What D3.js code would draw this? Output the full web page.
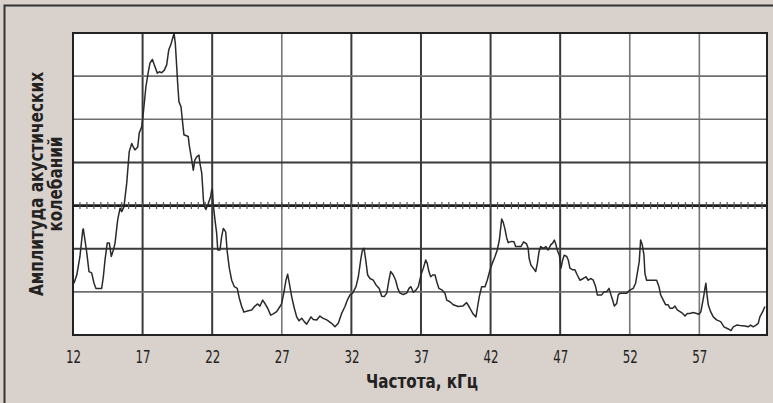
<!DOCTYPE html>
<html>
<head>
<meta charset="utf-8">
<script src="https://cdn.jsdelivr.net/npm/d3@7"></script>
<style>
  body { margin: 0; background: #d9d1cc; }
  svg { display: block; }
  text { font-family: "Liberation Sans Narrow", "DejaVu Sans Condensed", "Liberation Sans", sans-serif; font-stretch: condensed; }
</style>
</head>
<body>
<script>
// частота, кГц
var freq = [12.07,12.27,12.50,12.70,12.74,12.86,12.98,13.15,13.34,13.51,13.65,14.06,14.18,14.30,14.46,14.61,14.75,14.90,15.02,15.21,
  15.38,15.50,15.66,15.86,16.04,16.22,16.33,16.45,16.65,16.76,16.94,17.05,17.24,17.41,17.53,17.70,17.89,18.06,18.20,18.37,
  18.56,18.73,18.88,19.02,19.16,19.26,19.35,19.45,19.52,19.61,19.76,19.88,19.97,20.28,20.35,20.53,20.64,20.76,20.89,21.05,
  21.12,21.25,21.32,21.36,21.41,21.55,21.72,21.89,21.96,22.01,22.08,22.20,22.32,22.40,22.56,22.68,22.80,22.97,23.08,23.23,
  23.40,23.59,23.80,23.95,24.12,24.28,24.59,24.84,25.07,25.27,25.43,25.63,25.79,25.99,26.20,26.39,26.63,26.87,26.99,27.16,
  27.30,27.42,27.54,27.71,27.90,28.07,28.24,28.43,28.62,28.79,29.10,29.26,29.51,29.74,29.94,30.23,30.58,30.82,31.06,31.30,
  31.54,31.71,31.90,32.09,32.33,32.50,32.67,32.78,32.91,33.03,33.17,33.34,33.57,33.77,34.00,34.18,34.36,34.54,34.70,34.82,
  35.01,35.18,35.33,35.49,35.73,35.97,36.14,36.28,36.45,36.64,36.81,37.00,37.17,37.34,37.45,37.57,37.70,37.84,38.01,38.13,
  38.29,38.53,38.72,38.85,39.08,39.32,39.68,40.00,40.28,40.52,40.76,40.95,41.05,41.19,41.36,41.60,41.76,41.96,42.12,42.32,
  42.48,42.63,42.80,42.91,43.03,43.16,43.27,43.51,43.68,43.80,43.99,44.18,44.37,44.59,44.70,44.77,44.90,45.07,45.24,45.36,
  45.48,45.60,45.79,45.98,46.14,46.32,46.46,46.58,46.70,46.79,46.94,47.06,47.18,47.29,47.47,47.58,47.70,47.90,48.06,48.23,
  48.42,48.66,48.85,49.02,49.19,49.38,49.55,49.67,49.98,50.15,50.34,50.51,50.65,50.77,50.89,51.06,51.17,51.30,51.78,52.01,
  52.25,52.42,52.54,52.68,52.78,52.90,53.02,53.09,53.21,53.93,54.10,54.22,54.41,54.58,54.76,54.89,55.08,55.25,55.41,55.61,
  55.80,55.97,56.13,56.32,56.56,56.81,56.97,57.11,57.24,57.33,57.40,57.47,57.55,57.64,57.81,58.00,58.24,58.53,58.77,59.08,
  59.27,59.44,59.68,59.92,60.28,60.51,60.68,60.87,61.07,61.23,61.35,61.55,61.71];

// амплитуда (усл. ед.)
var amp = [12.0,13.9,18.2,24.3,24.6,22.0,19.3,14.7,14.4,12.0,10.8,10.8,13.5,17.4,21.3,21.3,18.2,19.7,21.3,26.7,
  29.4,28.6,29.7,35.2,42.5,44.4,43.6,42.9,43.6,46.8,48.3,51.4,57.6,61.0,63.0,63.9,62.2,60.7,61.0,60.8,
  61.4,62.6,66.1,67.2,68.8,69.9,67.6,62.2,58.3,54.1,52.9,49.1,46.4,46.0,44.0,40.6,38.2,40.6,41.3,41.7,
  39.8,37.5,34.0,31.7,30.1,29.1,30.5,32.1,33.6,33.8,30.1,26.7,23.6,19.7,19.7,22.8,24.7,23.9,19.3,15.5,
  12.7,11.2,10.8,8.5,6.6,5.3,5.6,5.8,6.7,7.2,6.7,8.1,7.3,6.2,4.6,4.9,5.4,6.6,7.3,10.0,
  12.7,14.1,12.0,8.9,6.2,4.2,3.3,3.9,3.1,2.5,4.2,3.6,3.5,4.4,3.9,3.5,2.7,1.9,2.7,5.0,
  6.6,8.1,9.3,9.7,11.2,13.5,17.4,19.5,20.1,17.4,13.9,13.1,12.7,11.6,10.8,9.0,8.9,9.7,12.7,14.7,
  13.9,12.7,10.8,9.7,9.4,9.7,10.8,11.2,9.9,10.4,11.2,13.9,15.5,17.4,16.6,14.7,13.5,13.9,13.9,12.4,
  10.8,10.4,9.7,8.1,7.7,7.0,6.6,6.7,7.5,6.2,4.8,4.2,6.2,8.9,11.2,11.2,12.7,15.1,16.6,18.2,
  19.7,22.0,26.9,26.1,24.6,22.5,21.4,21.7,21.6,20.5,20.5,20.5,21.6,21.1,20.1,17.8,16.2,15.5,14.7,16.6,
  19.3,20.5,20.1,20.5,19.7,20.9,21.3,22.0,20.9,19.7,18.5,15.5,17.4,18.5,18.2,17.4,15.5,15.1,15.1,13.9,
  12.7,13.1,13.5,12.7,13.1,12.7,11.2,9.3,9.3,10.0,10.0,10.8,9.3,8.1,6.7,7.3,9.3,9.7,9.7,10.4,
  10.8,12.0,14.3,17.0,22.0,20.9,18.5,14.3,12.7,12.7,11.2,9.3,8.1,7.0,7.0,6.2,6.2,6.7,5.8,5.4,
  5.0,4.4,5.0,5.0,5.2,5.0,4.8,5.4,7.7,9.3,10.8,12.0,9.3,7.0,5.4,4.2,3.5,3.1,1.9,1.4,
  1.0,1.9,2.3,2.2,2.1,1.9,2.3,1.9,2.3,2.7,4.2,5.4,6.6];

var xTicks = [12, 17, 22, 27, 32, 37, 42, 47, 52, 57];
var yGrid = [10, 20, 30, 40, 50, 60];
var yLabel = ["Амплитуда  акустических", "колебаний"];
var xLabel = "Частота, кГц";

function drawChart() {
  var data = freq.map(function(f, i) { return {f: f, a: amp[i]}; });

  var W = 773, H = 403;
  var pLeft = 73, pRight = 767, pTop = 33, pBottom = 335;

  var svg = d3.select("body").append("svg")
    .attr("width", W).attr("height", H);

  // фон и рамка
  svg.append("rect").attr("width", W).attr("height", H).attr("fill", "#d9d1cc");
  svg.append("path")
    .attr("d", "M4.5," + H + "V5.5H" + W)
    .attr("fill", "none").attr("stroke", "#333").attr("stroke-width", 2);

  var x = d3.scaleLinear().domain([12, 61.86]).range([pLeft, pRight]);
  var y = d3.scaleLinear().domain([0, 70]).range([pBottom, pTop]);

  svg.append("rect")
    .attr("x", pLeft).attr("y", pTop)
    .attr("width", pRight - pLeft).attr("height", pBottom - pTop)
    .attr("fill", "#fff");

  // вертикальная сетка
  var light = {27: true, 52: true, 57: true};
  svg.append("g").selectAll("line")
    .data(xTicks.slice(1))
    .enter().append("line")
    .attr("x1", function(d) { return x(d); })
    .attr("x2", function(d) { return x(d); })
    .attr("y1", pTop).attr("y2", pBottom)
    .attr("stroke", function(d) { return light[d] ? "#777" : "#3a3a3a"; })
    .attr("stroke-width", function(d) { return light[d] ? 1.6 : 2; });

  // горизонтальная сетка
  svg.append("g").selectAll("line")
    .data(yGrid)
    .enter().append("line")
    .attr("x1", pLeft).attr("x2", pRight)
    .attr("y1", function(d) { return y(d); })
    .attr("y2", function(d) { return y(d); })
    .attr("stroke", function(d) { return d == 30 ? "#1e1e1e" : (d == 20 || d == 40 ? "#3a3a3a" : "#6e6e6e"); })
    .attr("stroke-width", function(d) { return d == 30 ? 2.8 : (d == 20 || d == 40 ? 2 : 1.6); });

  // мелкие деления на средней линии
  svg.append("g").selectAll("line")
    .data(d3.range(12.5, 61.8, 0.5))
    .enter().append("line")
    .attr("x1", function(d) { return x(d); })
    .attr("x2", function(d) { return x(d); })
    .attr("y1", y(30) - 3.5).attr("y2", y(30) + 3.5)
    .attr("stroke", "#555").attr("stroke-width", 1.2);

  // кривая
  var line = d3.line()
    .x(function(d) { return x(d.f); })
    .y(function(d) { return y(d.a); });

  svg.append("path")
    .datum(data)
    .attr("d", line)
    .attr("fill", "none")
    .attr("stroke", "#2a2a2a")
    .attr("stroke-width", 1.5)
    .attr("stroke-linejoin", "round");

  // рамка графика
  svg.append("rect")
    .attr("x", pLeft).attr("y", pTop)
    .attr("width", pRight - pLeft).attr("height", pBottom - pTop)
    .attr("fill", "none").attr("stroke", "#222").attr("stroke-width", 2);

  // подписи оси X
  var xAxis = svg.append("g")
    .attr("transform", "translate(0," + pBottom + ")")
    .call(d3.axisBottom(x).tickValues(xTicks).tickSize(0).tickPadding(15));
  xAxis.select(".domain").remove();
  xAxis.attr("font-family", null);
  xAxis.selectAll("text")
    .attr("font-size", 18)
    .attr("textLength", 15)
    .attr("lengthAdjust", "spacingAndGlyphs")
    .attr("fill", "#222");

  svg.append("text")
    .attr("x", 422).attr("y", 388)
    .attr("text-anchor", "middle")
    .attr("font-weight", "bold")
    .attr("font-size", 19)
    .attr("textLength", 112)
    .attr("lengthAdjust", "spacingAndGlyphs")
    .attr("fill", "#222")
    .text(xLabel);

  // подпись оси Y
  var yl = svg.append("g").attr("transform", "translate(43,184) rotate(-90)");
  yl.append("text")
    .attr("x", 0).attr("y", 0)
    .attr("text-anchor", "middle")
    .attr("font-weight", "bold")
    .attr("font-size", 19)
    .attr("textLength", 224)
    .attr("lengthAdjust", "spacingAndGlyphs")
    .attr("fill", "#222")
    .text(yLabel[0]);
  yl.append("text")
    .attr("x", 0).attr("y", 19)
    .attr("text-anchor", "middle")
    .attr("font-weight", "bold")
    .attr("font-size", 19)
    .attr("textLength", 95)
    .attr("lengthAdjust", "spacingAndGlyphs")
    .attr("fill", "#222")
    .text(yLabel[1]);
}

drawChart();
</script>
</body>
</html>
